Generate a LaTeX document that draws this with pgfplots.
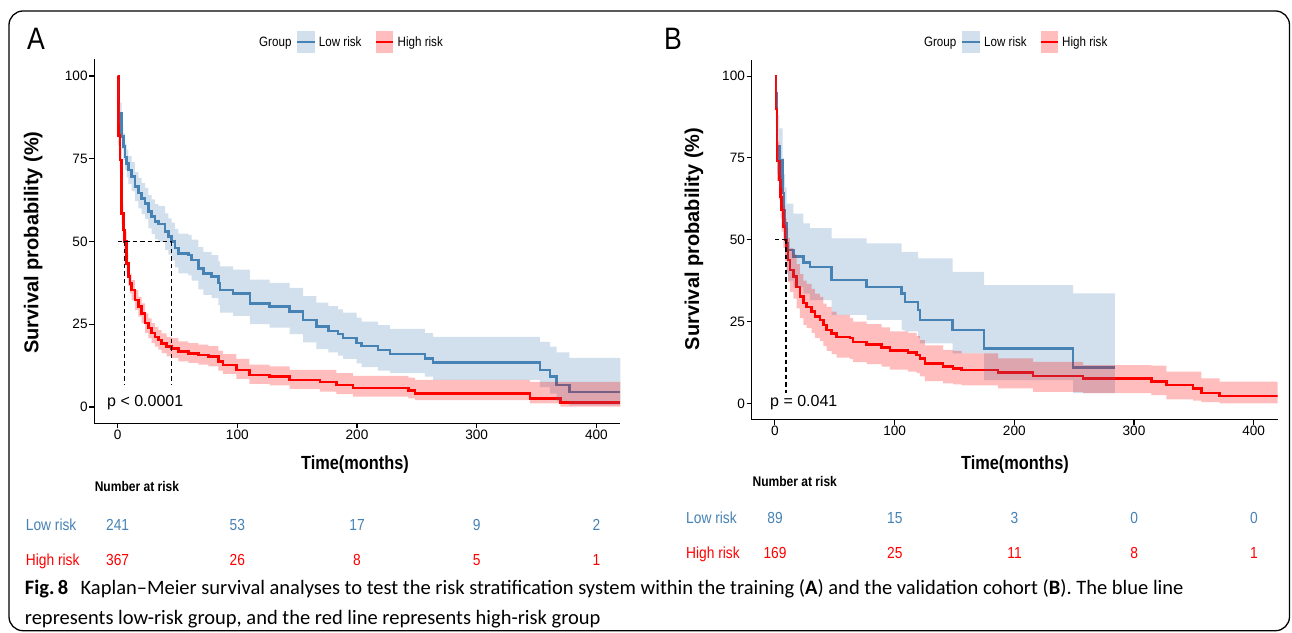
\documentclass[border=0pt]{standalone}
\usepackage{pgfplots}
\pgfplotsset{compat=1.18}
\usepackage{pgfplotstable}
\usepackage{fontspec}
\setmainfont{Liberation Sans}
\newfontfamily\condf[FakeStretch=0.86]{Liberation Sans}
\newfontfamily\capf{Carlito}
\definecolor{cblue}{RGB}{70,130,180}
\definecolor{cred}{RGB}{255,0,0}

% ---- survival curves (time, survival %) ----
\pgfplotstableread{
t s
0 100
0.2 95.8
1.1 88.8
3.3 81.7
4.7 78.7
6.1 75.6
7.5 73.6
8.9 71.6
11.7 69.6
14.5 66.6
17.3 64.6
20.1 63
22.9 61.5
25.6 59
28.4 57.5
31.2 56
34 55.3
39.6 53
42.4 51.5
45.2 50
47.9 48
50.7 46.4
59 45.9
61.9 44.4
67.5 41.9
71.7 40.4
78.6 39.4
84.2 37.4
85.6 35.3
96.4 34.3
110.4 31.3
127 30.3
143.8 28.8
155 26.3
166 24.3
176 23
184 22
188.4 20.8
199.6 19.4
203.8 18.4
217.7 17.2
227.4 16
256.7 14.7
263.6 13.4
352.8 11.2
361.2 9.2
366.8 6.6
377.4 4.5
420 4.5
}\lowA

\pgfplotstableread{
t s
0 100
0.6 82
1.9 74.6
3.3 58.5
4.7 53.5
5.6 50
7.5 43.4
8.9 39.4
10.3 37.3
11.7 35.3
14.5 32.3
17.3 30.3
20.1 28.3
22.9 25.3
25.6 23.8
28.4 22.3
31.2 21.2
34 20.2
36.8 19.2
41 18.2
45.2 17.7
50.7 16.7
59.1 16.2
67.5 15.7
75.8 15.2
84.2 13.7
88 12.7
99.2 11.2
110 9.7
127 9.2
143.8 8.2
168.9 7.6
182.8 6.6
196.8 5.8
243 5.0
248.3 4.1
344.5 2.6
370 1.4
420 1.4
}\highA

\pgfplotstableread{
t s
0 100
0.8 94.7
1.9 78.4
3.6 74.3
6.4 64.2
7.5 59.1
8.6 55
9.7 48.9
11.1 46.8
15.3 44.8
23.7 43
29.2 41.7
47.3 37.7
76.6 35.6
105.8 33.6
108.6 31
119.7 28.5
121.1 25.5
148.4 22.4
174.8 16.8
249.1 11
284 11
}\lowB

\pgfplotstableread{
t s
0 100
0.8 90
1.9 74
3.6 68.2
4.7 63.1
5.6 59.1
7 54
8.4 49.9
9.7 46.8
11.1 43.8
12.5 40.7
15.3 38.7
18.1 35.6
20.9 32.6
23.7 30.6
26.4 29.5
30.6 28
33.4 26.5
37.6 25.5
40.4 23.9
43.1 22.4
47.3 21.4
51.5 20.3
62.6 19.9
65.4 18.8
76.6 18
89.1 17.1
96 16.1
111.3 15.5
118.3 14.8
121.1 13.7
125.3 12.2
140.6 11.2
148.9 10.7
155.9 10.2
186.5 9.4
215.7 8.4
257.5 7.6
314.6 6.6
327.1 5.6
349.3 4.6
356.3 3.2
371.6 2.2
420 2.2
}\highB

% ---- confidence bands: upper bound forward, lower bound backward ----
\pgfplotstableread{
x y
0 100
0.2 99
1.1 92
3.3 85.5
4.7 82.7
6.1 79.6
7.5 77.8
8.9 75.8
11.7 74
14.5 71
17.3 69.2
20.1 67.7
22.9 66.2
25.6 64
28.4 62.7
31.2 61.3
34 60.8
39.6 58.5
42.4 57
45.2 55.7
47.9 53.8
50.7 52.4
59 52
61.9 50.6
67.5 48.3
71.7 46.9
78.6 45.9
84.2 44
85.6 42.5
96.4 41.5
110.4 38.5
127 37.5
143.8 36
155 33.5
166 31.5
176 30.5
184 29.5
188.4 28.5
199.6 27
203.8 25.8
217.7 24.7
227.4 23.6
256.7 22.3
263.6 21.2
352.8 19.7
361.2 18.2
366.8 16.5
377.4 14.8
420 14.8
420 0.5
377.4 1.8
366.8 4
361.2 6
352.8 8.2
263.6 9.2
256.7 10.2
227.4 11
217.7 12
203.8 13.2
199.6 14.5
188.4 15.5
184 16.5
176 17.5
166 19.5
155 22
143.8 24
127 25
110.4 27.5
96.4 28.5
85.6 30.8
84.2 32.9
78.6 33.9
71.7 35.5
67.5 38.2
61.9 39.8
59 40.4
50.7 42.2
47.9 44.3
45.2 46
42.4 47.5
39.6 49.8
34 50.7
31.2 52.3
28.4 54
25.6 56.8
22.9 58.3
20.1 60
17.3 62.2
14.5 65.2
11.7 67.4
8.9 69.4
7.5 71.6
6.1 74.7
4.7 78
3.3 85.5
1.1 92.5
0.2 100
}\lowAci

\pgfplotstableread{
x y
0 100
0.6 85
1.9 78
3.3 61.5
4.7 56.5
5.6 53
7.5 46.5
8.9 42.5
10.3 40.3
11.7 38.3
14.5 35.3
17.3 33.3
20.1 31.3
22.9 28.3
25.6 26.8
28.4 25.3
31.2 24.2
34 23.2
36.8 22.2
41 21.2
45.2 20.8
50.7 19.8
59.1 19.3
67.5 18.8
75.8 18.4
84.2 17
88 16
99.2 14.5
110 12.8
127 12.3
143.8 11.2
168.9 11.2
182.8 10.2
196.8 9.4
243 8.9
248.3 8.2
344.5 7.6
370 7.6
420 7.6
420 0.1
370 1.1
344.5 2.1
248.3 2.6
243 3.1
196.8 3.9
182.8 4.6
168.9 5.5
143.8 6.5
127 7
110 8.5
99.2 10
88 11
84.2 12.3
75.8 12.8
67.5 13.3
59.1 13.8
50.7 14.8
45.2 15.3
41 16.3
36.8 17.3
34 18.2
31.2 19.3
28.4 20.8
25.6 22.3
22.9 25.3
20.1 27.3
17.3 29.3
14.5 32.3
11.7 34.3
10.3 36.5
8.9 40.5
7.5 47
5.6 50.5
4.7 55.5
3.3 71.5
1.9 79
0.6 100
}\highAci

\pgfplotstableread{
x y
0 100
0.8 100
1.9 88
3.6 84
6.4 75
7.5 70
8.6 66
9.7 61
11.1 61
15.3 58
23.7 55
29.2 53.5
47.3 50.4
76.6 48.9
105.8 46.3
108.6 46.3
119.7 44.3
121.1 44.3
148.4 40.2
174.8 36.1
249.1 33.6
284 33.6
284 3.1
249.1 7.1
174.8 15.3
148.4 18.3
121.1 20
119.7 22
108.6 22.4
105.8 25.5
76.6 27
47.3 31.5
29.2 33.5
23.7 35.5
15.3 37.5
11.1 39.5
9.7 45
8.6 50
7.5 55
6.4 66
3.6 70
1.9 90
0.8 100
}\lowBci

\pgfplotstableread{
x y
0 100
0.8 95
1.9 80
3.6 74.5
4.7 69.5
5.6 65.5
7 60.5
8.4 56.5
9.7 53.5
11.1 50.5
12.5 47.5
15.3 45.5
18.1 42.5
20.9 39.5
23.7 37.5
26.4 36.5
30.6 35
33.4 33.5
37.6 32.5
40.4 30.5
43.1 29.5
47.3 28
51.5 27
62.6 26
65.4 25
76.6 24.2
89.1 23.2
96 22
111.3 21.5
118.3 20.5
121.1 19.3
125.3 17.7
140.6 16.3
148.9 16
155.9 15.3
186.5 13.7
215.7 12.7
257.5 11.7
314.6 11.5
327.1 9.7
349.3 9.7
356.3 7.6
371.6 6.6
420 6.6
420 0
371.6 0.4
356.3 0.8
349.3 1.2
327.1 2.5
314.6 3.1
257.5 3.5
215.7 4.6
186.5 5.5
155.9 5.8
148.9 6.1
140.6 6.8
125.3 8.2
121.1 9.2
118.3 9.7
111.3 10.3
96 11.2
89.1 12
76.6 12.6
65.4 13.5
62.6 14
51.5 15
47.3 16
43.1 17.5
40.4 19
37.6 20
33.4 21.5
30.6 23
26.4 24
23.7 26
20.9 29
18.1 32
15.3 34
12.5 37
11.1 40
9.7 43.5
8.4 47.5
7 52.5
5.6 56.5
4.7 62
3.6 68
1.9 85
0.8 100
}\highBci

\pgfplotsset{
  kmaxis/.style={
    scale only axis, width=526pt,
    xmin=-19.5, xmax=420, ymin=-5, ymax=105,
    axis x line*=bottom, axis y line*=left,
    axis line style={line width=1.1pt, black},
    xtick={0,100,200,300,400}, ytick={0,25,50,75,100},
    tick align=outside, major tick length=5pt,
    tick style={line width=1.1pt, black},
    ticklabel style={font=\fontsize{13.6}{14}\selectfont, inner sep=1.5pt},
    /pgf/number format/assume math mode=true,
  },
  kmline/.style={const plot, line width=2.5pt},
  kmband/.style={const plot, draw=none},
  kmdash/.style={black, line width=1pt, dash pattern=on 4.5pt off 3pt},
}

\begin{document}
\begin{tikzpicture}
\begin{scope}[x=1pt,y=1pt]
\useasboundingbox (0,0) rectangle (1292,632);
\draw[line width=1.3pt, rounded corners=14pt] (9,1.3) rectangle (1289.5,621);
\end{scope}

% ---------------- Panel A ----------------
\begin{axis}[kmaxis, height=364pt, at={(94.3pt,208.5pt)}, anchor=south west]
\addplot[kmline, draw=cblue] table[x=t,y=s]{\lowA};
\addplot[kmline, draw=cred] table[x=t,y=s]{\highA};
\addplot[kmband, fill=cblue, fill opacity=0.25] table[x=x,y=y]{\lowAci};
\addplot[kmband, fill=cred, fill opacity=0.26] table[x=x,y=y]{\highAci};
\addplot[kmdash] coordinates {(0,50) (45.2,50)};
\addplot[kmdash] coordinates {(5.6,50) (5.6,6.6)};
\addplot[kmdash] coordinates {(45.2,50) (45.2,6.6)};
\end{axis}

% ---------------- Panel B ----------------
\begin{axis}[kmaxis, height=360pt, at={(751.6pt,212.3pt)}, anchor=south west]
\addplot[kmline, draw=cblue] table[x=t,y=s]{\lowB};
\addplot[kmline, draw=cred] table[x=t,y=s]{\highB};
\addplot[kmband, fill=cblue, fill opacity=0.25] table[x=x,y=y]{\lowBci};
\addplot[kmband, fill=cred, fill opacity=0.26] table[x=x,y=y]{\highBci};
\addplot[kmdash] coordinates {(0,50) (9.7,50)};
\addplot[kmdash] coordinates {(8.4,50) (8.4,3.1)};
\addplot[kmdash] coordinates {(9.7,50) (9.7,3.1)};
\end{axis}

\begin{scope}[x=1pt,y=1pt]
% panel letters
\node[anchor=base west, inner sep=0] at (27,582) {\condf\fontsize{31}{32}\selectfont A};
\node[anchor=base west, inner sep=0] at (664,582) {\condf\fontsize{31}{32}\selectfont B};

% legends
\begin{scope}[every node/.style={anchor=base west, inner sep=0, font=\condf\fontsize{13.5}{14}\selectfont}]
\node at (259,585.5) {Group};
\fill[cblue!25] (297,579.3) rectangle (315,601.3);
\draw[cblue, line width=2.5pt] (297,590) -- (315,590);
\node at (318.7,585.5) {Low risk};
\fill[cred!26] (376,579.3) rectangle (393,601.3);
\draw[cred, line width=2.5pt] (376,590) -- (393,590);
\node at (397.5,585.5) {High risk};

\node at (923.8,585.5) {Group};
\fill[cblue!25] (962.3,579.3) rectangle (980,601.3);
\draw[cblue, line width=2.5pt] (962.3,590) -- (980,590);
\node at (984,585.5) {Low risk};
\fill[cred!26] (1041,579.3) rectangle (1058,601.3);
\draw[cred, line width=2.5pt] (1041,590) -- (1058,590);
\node at (1062,585.5) {High risk};
\end{scope}

% axis titles
\node[rotate=90, inner sep=0, font=\bfseries\fontsize{20}{21}\selectfont] at (33.3,389.5) {Survival probability (\%)};
\node[rotate=90, inner sep=0, font=\bfseries\fontsize{20}{21}\selectfont] at (694,393) {Survival probability (\%)};
\node[inner sep=0, font=\condf\bfseries\fontsize{19}{20}\selectfont] at (355,167) {Time(months)};
\node[inner sep=0, font=\condf\bfseries\fontsize{19}{20}\selectfont] at (1015,167) {Time(months)};

% p values
\node[anchor=base west, inner sep=0, font=\fontsize{16}{17}\selectfont] at (107,225.3) {p < 0.0001};
\node[anchor=base west, inner sep=0, font=\fontsize{16}{17}\selectfont] at (770,225.3) {p = 0.041};

% risk tables
\begin{scope}[every node/.style={inner sep=0, font=\condf\fontsize{16}{17}\selectfont}]
\node[anchor=base west, font=\condf\bfseries\fontsize{14}{15}\selectfont] at (94.6,140.3) {Number at risk};
\node[anchor=base west, text=cblue] at (25.7,102) {Low risk};
\node[anchor=base west, text=cred] at (25.7,67) {High risk};
\foreach \x/\v in {117.6/241, 237.3/53, 357/17, 476.7/9, 596.4/2}
  \node[anchor=base, text=cblue] at (\x,102) {\v};
\foreach \x/\v in {117.6/367, 237.3/26, 357/8, 476.7/5, 596.4/1}
  \node[anchor=base, text=cred] at (\x,67) {\v};

\node[anchor=base west, font=\condf\bfseries\fontsize{14}{15}\selectfont] at (752.4,145.3) {Number at risk};
\node[anchor=base west, text=cblue] at (686,109) {Low risk};
\node[anchor=base west, text=cred] at (686,74) {High risk};
\foreach \x/\v in {775/89, 894.75/15, 1014.5/3, 1134.25/0, 1254/0}
  \node[anchor=base, text=cblue] at (\x,109) {\v};
\foreach \x/\v in {775/169, 894.75/25, 1014.5/11, 1134.25/8, 1254/1}
  \node[anchor=base, text=cred] at (\x,74) {\v};
\end{scope}

% caption
\node[anchor=base west, inner sep=0, font=\capf\fontsize{20.5}{22}\selectfont] at (24.7,38)
  {\textbf{Fig.\,8}\hspace{0.6em}Kaplan–Meier survival analyses to test the risk stratification system within the training (\textbf{A}) and the validation cohort (\textbf{B}). The blue line};
\node[anchor=base west, inner sep=0, font=\capf\fontsize{20.5}{22}\selectfont] at (24.7,8)
  {represents low-risk group, and the red line represents high-risk group};
\end{scope}
\end{tikzpicture}
\end{document}
